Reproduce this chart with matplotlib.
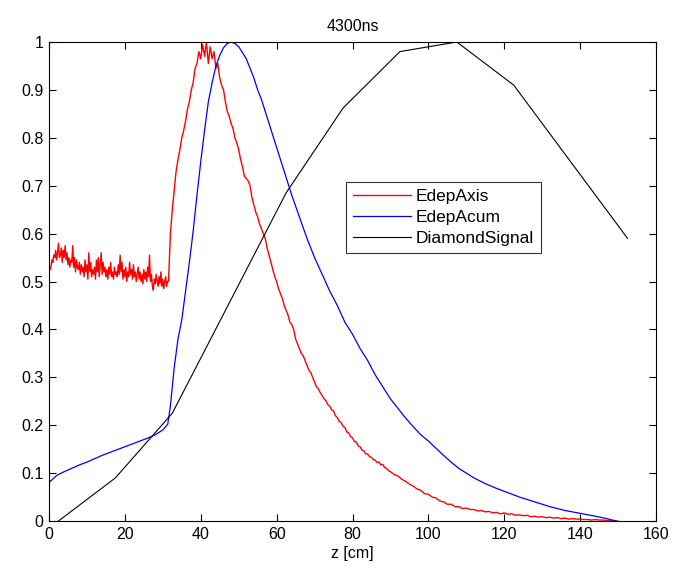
import matplotlib
import numpy as np

matplotlib.use("Agg")
import matplotlib.pyplot as plt

# EdepAxis (red, noisy) - in three pieces
axis_z_flat = np.arange(0, 31.5, 0.25)
axis_flat = [
    0.52, 0.525, 0.53, 0.545, 0.54, 0.555, 0.55, 0.565, 0.545, 0.56, 0.58, 0.55,
    0.555, 0.57, 0.54, 0.565, 0.55, 0.575, 0.545, 0.56, 0.535, 0.55, 0.53, 0.545,
    0.54, 0.575, 0.53, 0.55, 0.52, 0.545, 0.53, 0.525, 0.54, 0.515, 0.535, 0.52,
    0.53, 0.51, 0.545, 0.52, 0.535, 0.505, 0.56, 0.52, 0.54, 0.51, 0.525, 0.515,
    0.53, 0.505, 0.545, 0.52, 0.55, 0.51, 0.535, 0.56, 0.515, 0.54, 0.52, 0.53,
    0.51, 0.525, 0.505, 0.53, 0.515, 0.54, 0.51, 0.52, 0.505, 0.53, 0.515, 0.52,
    0.51, 0.535, 0.515, 0.555, 0.52, 0.54, 0.505, 0.525, 0.51, 0.53, 0.5, 0.52,
    0.51, 0.54, 0.515, 0.525, 0.505, 0.535, 0.51, 0.52, 0.5, 0.515, 0.53, 0.505,
    0.52, 0.5, 0.515, 0.495, 0.525, 0.505, 0.52, 0.5, 0.53, 0.51, 0.555, 0.5,
    0.515, 0.49, 0.482, 0.505, 0.495, 0.515, 0.5, 0.49, 0.51, 0.495, 0.52, 0.49,
    0.505, 0.485, 0.5, 0.51, 0.49, 0.5,
]

axis_z_peak = np.arange(31.5, 90, 0.5)
axis_peak = [
    0.50, 0.60, 0.65, 0.69, 0.73, 0.755, 0.775, 0.80, 0.815, 0.835,
    0.86, 0.875, 0.90, 0.915, 0.945, 0.955, 0.98, 0.965, 0.995, 0.97,
    1.0, 0.955, 0.99, 0.965, 0.98, 0.945, 0.955, 0.925, 0.91, 0.90,
    0.875, 0.855, 0.845, 0.83, 0.82, 0.80, 0.79, 0.775, 0.755, 0.74,
    0.72, 0.715, 0.71, 0.70, 0.675, 0.66, 0.645, 0.635, 0.62, 0.61,
    0.60, 0.59, 0.57, 0.555, 0.54, 0.525, 0.51, 0.50, 0.485, 0.475,
    0.465, 0.45, 0.44, 0.43, 0.415, 0.41, 0.40, 0.38, 0.37, 0.36,
    0.35, 0.345, 0.335, 0.325, 0.315, 0.31, 0.30, 0.29, 0.28, 0.276,
    0.268, 0.262, 0.255, 0.251, 0.243, 0.24, 0.232, 0.23, 0.22, 0.216,
    0.208, 0.206, 0.198, 0.195, 0.186, 0.184, 0.176, 0.174, 0.166, 0.165,
    0.157, 0.155, 0.148, 0.147, 0.14, 0.14, 0.134, 0.133, 0.128, 0.127,
    0.122, 0.123, 0.117, 0.118, 0.111, 0.11, 0.105,
]

axis_z_tail = np.arange(90, 150.5, 1.0)
axis_tail = [
    0.103, 0.097, 0.094, 0.087, 0.083, 0.077, 0.073, 0.067, 0.064, 0.057,
    0.056, 0.05, 0.048, 0.042, 0.04, 0.035, 0.035, 0.03, 0.03, 0.026,
    0.027, 0.024, 0.024, 0.021, 0.022, 0.019, 0.02, 0.017, 0.018, 0.015,
    0.017, 0.014, 0.015, 0.012, 0.013, 0.011, 0.012, 0.009, 0.01, 0.008,
    0.009, 0.007, 0.008, 0.006, 0.007, 0.005, 0.006, 0.004, 0.005, 0.004,
    0.004, 0.003, 0.003, 0.002, 0.003, 0.002, 0.002, 0.001, 0.001, 0.0,
    0.0,
]

# EdepAcum (blue, smooth)
acum_z = [0, 2, 4, 6, 8, 10, 12, 14, 16, 18, 20, 22, 24, 26, 28, 30, 31.3,
          32, 33, 34, 35, 36, 37, 38, 39, 40, 41, 42, 43, 44, 45, 46, 47, 48,
          49, 50, 51, 52, 53, 54, 55, 56, 58, 60, 62, 64, 66, 68, 70, 72, 74,
          76, 78, 80, 82, 84, 86, 88, 90, 92, 94, 96, 98, 100, 102, 104, 106,
          108, 110, 112, 115, 118, 120, 124, 128, 132, 136, 140, 144, 147, 149.5]
acum = [0.08, 0.095, 0.103, 0.11, 0.117, 0.123, 0.13, 0.137, 0.143, 0.149,
        0.155, 0.161, 0.167, 0.173, 0.18, 0.19, 0.202,
        0.24, 0.32, 0.38, 0.42, 0.48, 0.54, 0.605, 0.68, 0.75, 0.815, 0.875,
        0.915, 0.95, 0.972, 0.988, 0.997, 1.0, 0.997, 0.99, 0.978, 0.965,
        0.945, 0.925, 0.9, 0.88, 0.83, 0.78, 0.73, 0.68, 0.635, 0.59, 0.55,
        0.515, 0.48, 0.45, 0.415, 0.39, 0.36, 0.335, 0.305, 0.28, 0.255,
        0.235, 0.215, 0.197, 0.18, 0.167, 0.152, 0.137, 0.123, 0.11, 0.1,
        0.09, 0.078, 0.068, 0.062, 0.05, 0.04, 0.03, 0.022, 0.016, 0.01,
        0.005, 0.0]

# DiamondSignal (black, coarse)
diamond_z = [2.5, 17.5, 32.5, 47.5, 62.5, 77.5, 92.5, 107.5, 122.5, 137.5, 152.5]
diamond = [0.0, 0.09, 0.225, 0.455, 0.685, 0.862, 0.98, 1.0, 0.91, 0.75, 0.59]

x_ticks = [0, 20, 40, 60, 80, 100, 120, 140, 160]
y_ticks = [0, 0.1, 0.2, 0.3, 0.4, 0.5, 0.6, 0.7, 0.8, 0.9, 1]
y_tick_labels = ["0", "0.1", "0.2", "0.3", "0.4", "0.5", "0.6", "0.7", "0.8", "0.9", "1"]


def main():
    plt.rcParams["font.family"] = ["Liberation Sans", "DejaVu Sans"]
    fig = plt.figure(figsize=(6.75, 5.75), dpi=100)
    ax = fig.add_axes([49 / 675, 1 - 521 / 575, 607 / 675, 479 / 575])

    axis_z = np.concatenate([axis_z_flat, axis_z_peak, axis_z_tail])
    axis_vals = np.concatenate([axis_flat, axis_peak, axis_tail])

    ax.plot(axis_z, axis_vals, color="#ff0000", lw=1.0, label="EdepAxis")
    ax.plot(acum_z, acum, color="#0000ff", lw=0.9, label="EdepAcum")
    ax.plot(diamond_z, diamond, color="black", lw=0.8, label="DiamondSignal")

    ax.set_xlim(0, 160)
    ax.set_ylim(0, 1)
    ax.set_xticks(x_ticks)
    ax.set_yticks(y_ticks)
    ax.set_yticklabels(y_tick_labels)
    ax.tick_params(direction="in", length=5, width=0.8, labelsize=11.5,
                   top=True, right=True, pad=4)
    for s in ax.spines.values():
        s.set_linewidth(0.8)

    ax.set_title("4300ns", fontsize=11.5, pad=8)
    ax.set_xlabel("z [cm]", fontsize=11.5, labelpad=3)

    leg = ax.legend(loc="upper left", bbox_to_anchor=(0.49, 0.708),
                    fancybox=False, framealpha=1, edgecolor="#333333",
                    fontsize=12.5, handlelength=3.3, borderpad=0.4,
                    labelspacing=0.35, handletextpad=0.3, borderaxespad=0)
    leg.get_frame().set_linewidth(0.8)

    fig.savefig("out.png", dpi=100)
    plt.close(fig)


if __name__ == "__main__":
    main()
